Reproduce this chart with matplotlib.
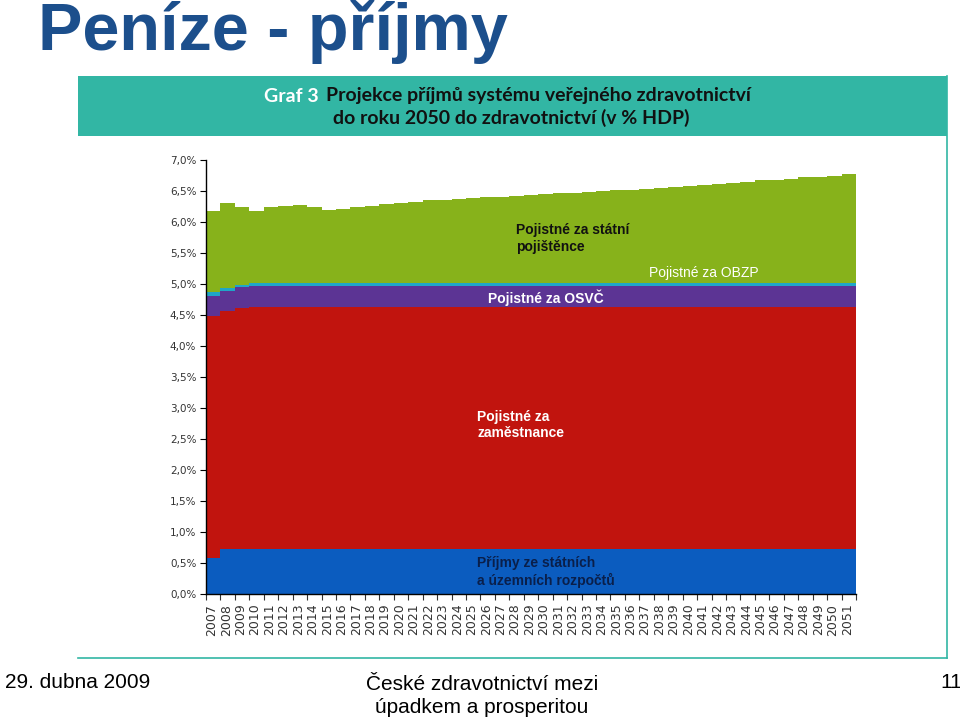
import matplotlib
matplotlib.use("Agg")
import matplotlib.pyplot as plt
from matplotlib.patches import Rectangle
from matplotlib.lines import Line2D
import numpy as np

# roky projekce
years = list(range(2007, 2052))

# příjmy v % HDP (jednotlivé složky)
rozpocty = [0.585, 0.73, 0.73, 0.73, 0.73, 0.73, 0.73, 0.73, 0.73, 0.73,
            0.73, 0.73, 0.73, 0.73, 0.73, 0.73, 0.73, 0.73, 0.73, 0.73,
            0.73, 0.73, 0.73, 0.73, 0.73, 0.73, 0.73, 0.73, 0.73, 0.73,
            0.73, 0.73, 0.73, 0.73, 0.73, 0.73, 0.73, 0.73, 0.73, 0.73,
            0.73, 0.73, 0.73, 0.73, 0.73]
zamestnanci = [3.905, 3.83, 3.88, 3.90, 3.90, 3.90, 3.90, 3.90, 3.90, 3.90,
               3.90, 3.90, 3.90, 3.90, 3.90, 3.90, 3.90, 3.90, 3.90, 3.90,
               3.90, 3.90, 3.90, 3.90, 3.90, 3.90, 3.90, 3.90, 3.90, 3.90,
               3.90, 3.90, 3.90, 3.90, 3.90, 3.90, 3.90, 3.90, 3.90, 3.90,
               3.90, 3.90, 3.90, 3.90, 3.90]
osvc = [0.31, 0.33, 0.34, 0.34, 0.34, 0.34, 0.34, 0.34, 0.34, 0.34,
        0.34, 0.34, 0.34, 0.34, 0.34, 0.34, 0.34, 0.34, 0.34, 0.34,
        0.34, 0.34, 0.34, 0.34, 0.34, 0.34, 0.34, 0.34, 0.34, 0.34,
        0.34, 0.34, 0.34, 0.34, 0.34, 0.34, 0.34, 0.34, 0.34, 0.34,
        0.34, 0.34, 0.34, 0.34, 0.34]
obzp = [0.07, 0.04, 0.03, 0.04, 0.04, 0.04, 0.04, 0.04, 0.04, 0.04,
        0.04, 0.04, 0.04, 0.04, 0.04, 0.04, 0.04, 0.04, 0.04, 0.04,
        0.04, 0.04, 0.04, 0.04, 0.04, 0.04, 0.04, 0.04, 0.04, 0.04,
        0.04, 0.04, 0.04, 0.04, 0.04, 0.04, 0.04, 0.04, 0.04, 0.04,
        0.04, 0.04, 0.04, 0.04, 0.04]
statni_pojistenci = [1.31, 1.38, 1.26, 1.16, 1.24, 1.25, 1.26, 1.23, 1.19, 1.20,
                     1.23, 1.25, 1.28, 1.30, 1.32, 1.34, 1.35, 1.36, 1.38, 1.39,
                     1.40, 1.41, 1.43, 1.44, 1.45, 1.46, 1.47, 1.49, 1.50, 1.51,
                     1.53, 1.54, 1.56, 1.57, 1.59, 1.61, 1.62, 1.64, 1.66, 1.67,
                     1.69, 1.71, 1.72, 1.74, 1.76]

y_ticks = [0.0, 0.5, 1.0, 1.5, 2.0, 2.5, 3.0, 3.5, 4.0, 4.5, 5.0, 5.5, 6.0, 6.5, 7.0]

W, H = 960, 721


def fx(x):
    return x / W


def fy(y):
    return 1 - y / H


fig = plt.figure(figsize=(9.6, 7.21), dpi=100)
fig.patch.set_facecolor("white")

teal = "#32b6a4"
# rámeček obrázku s grafem
fig.patches.append(Rectangle((fx(78), fy(136)), fx(947) - fx(78), fy(76) - fy(136),
                             transform=fig.transFigure, facecolor=teal, edgecolor="none"))
fig.lines.append(Line2D([fx(947), fx(947)], [fy(76), fy(658)], transform=fig.transFigure,
                        color=teal, lw=1.2))
fig.lines.append(Line2D([fx(78), fx(947)], [fy(658), fy(658)], transform=fig.transFigure,
                        color=teal, lw=1.2))

# nadpis snímku
fig.text(fx(38), fy(50), "Peníze - příjmy", fontsize=48, fontweight="bold",
         family="Liberation Sans", color="#1c4f8c", ha="left", va="baseline")

# nadpis grafu
hfont = dict(family=["Lato", "DejaVu Sans"], fontsize=14, fontweight="bold", va="center")
fig.text(fx(319), fy(96), "Graf 3", color="white", ha="right", **hfont)
fig.text(fx(326), fy(96), "Projekce příjmů systému veřejného zdravotnictví",
         color="#111111", ha="left", **hfont)
fig.text(fx(511), fy(118), "do roku 2050 do zdravotnictví (v % HDP)",
         color="#111111", ha="center", **hfont)

# graf
ax = fig.add_axes([fx(206), fy(594), (856 - 206) / W, (594 - 160) / H])
edges = np.arange(len(years) + 1)
series = [
    (rozpocty, "#0b5cbf"),
    (zamestnanci, "#c1140e"),
    (osvc, "#5c3494"),
    (obzp, "#1fa6c8"),
    (statni_pojistenci, "#87b21b"),
]
bottom = np.zeros(len(years))
for vals, col in series:
    top = bottom + np.array(vals)
    ax.stairs(top, edges, baseline=bottom, fill=True, color=col, lw=0)
    bottom = top

ax.set_xlim(0, len(years))
ax.set_ylim(0, 7)
ax.set_yticks(y_ticks)
ax.set_yticklabels([f"{v:.1f}".replace(".", ",") + "%" for v in y_ticks])
ax.set_xticks(np.arange(len(years)) + 0.4)
ax.set_xticklabels([str(y) for y in years], rotation=90)
ax.set_xticks(edges, minor=True)
ax.tick_params(axis="x", which="major", length=0, pad=7, labelsize=9, labelcolor="#333333")
ax.tick_params(axis="x", which="minor", length=4, width=0.8, direction="out", color="#333333")
ax.tick_params(axis="y", length=4, width=0.8, labelsize=7.5, labelcolor="#333333", pad=3)
for s in ["top", "right"]:
    ax.spines[s].set_visible(False)
for s in ["left", "bottom"]:
    ax.spines[s].set_linewidth(1.0)
    ax.spines[s].set_color("black")

# popisky složek
lab = dict(family="Liberation Sans", fontsize=10, ha="left", va="center", linespacing=1.25)
fig.text(fx(516), fy(238.5), "Pojistné za státní\npojištěnce", color="#111111",
         fontweight="bold", **lab)
fig.text(fx(649), fy(273), "Pojistné za OBZP", color="white", **lab)
fig.text(fx(488), fy(298), "Pojistné za OSVČ", color="white", fontweight="bold", **lab)
fig.text(fx(477), fy(425), "Pojistné za\nzaměstnance", color="white", fontweight="bold", **lab)
fig.text(fx(477), fy(572), "Příjmy ze státních\na územních rozpočtů", color="#0a1f4a",
         fontweight="bold", **lab)

# zápatí
foot = dict(family="Liberation Sans", fontsize=15, color="black", va="center")
fig.text(fx(5), fy(683), "29. dubna 2009", ha="left", **foot)
fig.text(fx(482), fy(696), "České zdravotnictví mezi\núpadkem a prosperitou", ha="center",
         linespacing=1.3, **foot)
fig.text(fx(940), fy(683), "11", ha="left", **foot)

fig.savefig("out.png", dpi=100)
